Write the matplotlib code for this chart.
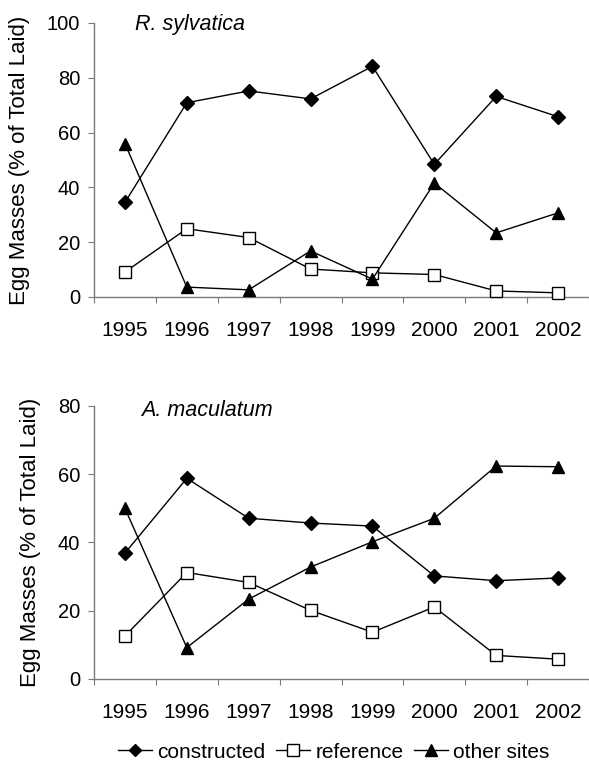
import matplotlib
matplotlib.use("Agg")
import matplotlib.pyplot as plt
from matplotlib.lines import Line2D
import numpy as np

plt.rcParams['font.family'] = ['Liberation Sans', 'DejaVu Sans']

years = ['1995', '1996', '1997', '1998', '1999', '2000', '2001', '2002']

rs_constructed = [34.5, 70.9, 75.2, 72.3, 84.2, 48.4, 73.2, 65.8]
rs_reference = [9.1, 24.9, 21.7, 10.2, 8.8, 8.2, 2.2, 1.5]
rs_other = [56.0, 3.6, 2.6, 16.8, 6.5, 41.6, 23.4, 30.7]

am_constructed = [36.9, 58.8, 47.1, 45.7, 44.8, 30.2, 28.8, 29.6]
am_reference = [12.6, 31.2, 28.3, 20.1, 13.7, 21.1, 6.9, 5.8]
am_other = [50.0, 9.2, 23.4, 32.8, 40.2, 47.1, 62.4, 62.2]

fig = plt.figure(figsize=(5.89, 7.64), dpi=100)
ax1 = fig.add_axes([0.1596, 0.6113, 0.8404, 0.3586])
ax2 = fig.add_axes([0.1596, 0.1113, 0.8404, 0.3573])

axis_color = '#7a7a7a'

def style(ax, c, r, o, ymax, title, tx, ty):
    x = np.arange(len(years))
    ax.plot(x, c, color='black', lw=1, marker='D', ms=7, mfc='black', mec='black', clip_on=False, zorder=3)
    ax.plot(x, r, color='black', lw=1, marker='s', ms=8, mfc='white', mec='black', mew=1, clip_on=False, zorder=3)
    ax.plot(x, o, color='black', lw=1, marker='^', ms=9, mfc='black', mec='black', clip_on=False, zorder=3)
    ax.set_xlim(-0.5, len(years) - 0.5)
    ax.set_ylim(0, ymax)
    ax.set_yticks(np.arange(0, ymax + 1, 20))
    ax.set_xticks(x)
    ax.set_xticklabels(years, fontsize=15)
    ax.set_xticks(np.arange(-0.5, len(years)), minor=True)
    ax.tick_params(axis='x', which='major', length=0, pad=17)
    ax.tick_params(axis='x', which='minor', length=4, width=0.8, direction='out', color=axis_color)
    ax.tick_params(axis='y', labelsize=14.5, length=4, width=0.8, pad=6, color=axis_color)
    for s in ['top', 'right']:
        ax.spines[s].set_visible(False)
    for s in ['left', 'bottom']:
        ax.spines[s].set_linewidth(1.0)
        ax.spines[s].set_color(axis_color)
    ax.set_ylabel('Egg Masses (% of Total Laid)', fontsize=16, labelpad=12)
    ax.text(tx, ty, title, transform=ax.transAxes, fontsize=15.5, style='italic', va='center', ha='left')

style(ax1, rs_constructed, rs_reference, rs_other, 100, 'R. sylvatica', 0.083, 0.993)
style(ax2, am_constructed, am_reference, am_other, 80, 'A. maculatum', 0.095, 0.985)

handles = [
    Line2D([], [], color='black', lw=1, marker='D', ms=6, mfc='black'),
    Line2D([], [], color='black', lw=1, marker='s', ms=8, mfc='white', mec='black'),
    Line2D([], [], color='black', lw=1, marker='^', ms=8, mfc='black'),
]
fig.legend(handles, ['constructed', 'reference', 'other sites'], loc='center',
           bbox_to_anchor=(0.567, 0.0157), ncol=3, frameon=False, fontsize=15,
           handlelength=1.63, handletextpad=0.24, columnspacing=0.53)

fig.savefig('out.png', dpi=100)
